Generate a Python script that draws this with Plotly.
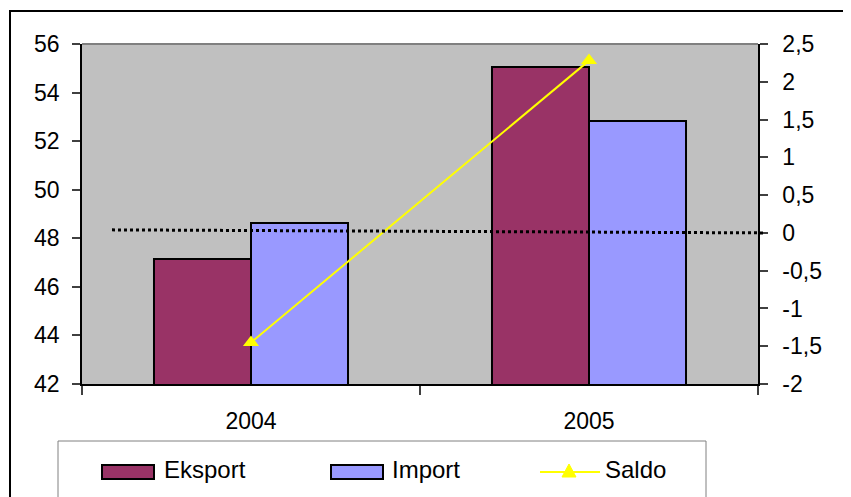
import plotly.graph_objects as go

# ---- data ----
years = ["2004", "2005"]
eksport = [47.15, 55.05]
import_ = [48.63, 52.83]
saldo = [-1.45, 2.28]
zero_line = [0.04, 0.0]          # dotted reference line on right axis (left end, right end)
series_names = ["Eksport", "Import", "Saldo"]

left_ticks = [42, 44, 46, 48, 50, 52, 54, 56]
right_ticks = [-2, -1.5, -1, -0.5, 0, 0.5, 1, 1.5, 2, 2.5]
right_tick_labels = ["-2", "-1,5", "-1", "-0,5", "0", "0,5", "1", "1,5", "2", "2,5"]

# ---- layout geometry (page pixel coords; page has an 8px body margin) ----
OFF = 8
W, H = 851 - OFF, 497 - OFF
L, R, T, B = 82, 758, 44, 384
def px(x):
    return (x - L) / (R - L)
def py(y):
    return (B - y) / (B - T)

FONT = "Liberation Sans, Arial, sans-serif"
C_EKS = "#993366"
C_IMP = "#9999FF"
C_SAL = "#FFFF00"

fig = go.Figure()
fig.add_trace(go.Bar(x=years, y=eksport, name=series_names[0], marker=dict(color=C_EKS, line=dict(color="black", width=2)), showlegend=False))
fig.add_trace(go.Bar(x=years, y=import_, name=series_names[1], marker=dict(color=C_IMP, line=dict(color="black", width=2)), showlegend=False))
fig.add_trace(go.Scatter(x=years, y=saldo, name=series_names[2], yaxis="y2", mode="lines+markers",
                         line=dict(color=C_SAL, width=2),
                         marker=dict(symbol="triangle-up", size=14, color=C_SAL), showlegend=False, cliponaxis=False))

shapes = []
# dotted zero line (right axis)
shapes.append(dict(type="line", xref="paper", yref="y2", x0=px(112), x1=px(763), y0=zero_line[0], y1=zero_line[1],
                   line=dict(color="black", width=3, dash="dot"), layer="above"))
# top border of plot area
shapes.append(dict(type="line", xref="paper", yref="paper", x0=0, x1=1, y0=1, y1=1,
                   line=dict(color="#808080", width=2), layer="above"))
# outer chart frame
shapes.append(dict(type="rect", xref="paper", yref="paper", x0=px(10), x1=px(900), y0=py(600), y1=py(11),
                   line=dict(color="black", width=2), layer="below"))
# legend box
shapes.append(dict(type="rect", xref="paper", yref="paper", x0=px(58), x1=px(706), y0=py(560), y1=py(441),
                   line=dict(color="#808080", width=1), layer="above"))
# legend swatches
shapes.append(dict(type="rect", xref="paper", yref="paper", x0=px(102), x1=px(154), y0=py(479), y1=py(465),
                   fillcolor=C_EKS, line=dict(color="black", width=2)))
shapes.append(dict(type="rect", xref="paper", yref="paper", x0=px(331), x1=px(383), y0=py(479), y1=py(465),
                   fillcolor=C_IMP, line=dict(color="black", width=2)))
shapes.append(dict(type="line", xref="paper", yref="paper", x0=px(540), x1=px(600), y0=py(472), y1=py(472),
                   line=dict(color=C_SAL, width=2)))
tx, ty = 569, 471
shapes.append(dict(type="path", xref="paper", yref="paper",
                   path=f"M {px(tx-7)},{py(ty+6)} L {px(tx+7)},{py(ty+6)} L {px(tx)},{py(ty-7)} Z",
                   fillcolor=C_SAL, line=dict(color=C_SAL, width=1)))

annotations = []
for name, x in zip(series_names, [162, 390, 603]):
    annotations.append(dict(text=name, xref="paper", yref="paper", x=px(x), y=py(469),
                            xanchor="left", yanchor="middle", showarrow=False,
                            font=dict(family=FONT, size=24, color="black")))

fig.update_layout(
    width=W, height=H,
    margin=dict(l=L - OFF, r=W - (R - OFF), t=T - OFF, b=H - (B - OFF), pad=0),
    paper_bgcolor="white", plot_bgcolor="#C0C0C0",
    barmode="group", bargap=0.426, bargroupgap=0,
    font=dict(family=FONT, size=22, color="black"),
    showlegend=False,
    shapes=shapes, annotations=annotations,
    xaxis=dict(type="category", showline=True, linecolor="black", linewidth=1.5,
               ticks="outside", ticklen=9, tickcolor="#404040", tickwidth=1.5, tickson="boundaries",
               showgrid=False, zeroline=False, ticklabelstandoff=16,
               tickfont=dict(size=23)),
    yaxis=dict(range=[42, 56], tickvals=left_ticks, ticks="outside", ticklen=8, tickcolor="#404040", tickwidth=1.5,
               showline=True, linecolor="black", linewidth=1.5, showgrid=False, zeroline=False,
               ticklabelstandoff=8, tickfont=dict(size=23)),
    yaxis2=dict(range=[-2, 2.5], overlaying="y", side="right", tickvals=right_ticks, ticktext=right_tick_labels,
                ticks="outside", ticklen=8, tickcolor="#404040", tickwidth=1.5,
                showline=True, linecolor="black", linewidth=1.5, showgrid=False, zeroline=False,
                ticklabelstandoff=10, tickfont=dict(size=23)),
)

fig.write_html("out.html")
